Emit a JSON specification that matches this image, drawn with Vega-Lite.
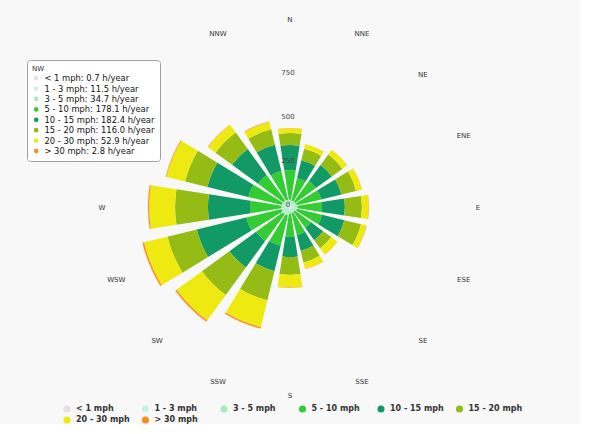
{
  "$schema": "https://vega.github.io/schema/vega-lite/v6.json",
  "width": 580,
  "height": 414,
  "padding": 0,
  "background": "#f8f8f8",
  "config": {"view": {"stroke": null}, "font": "DejaVu Sans", "legend": {"padding": 0}},
  "datasets": {
    "wind": [
      {"dir":"N","speed":"< 1 mph","k":1,"hours":0.6},{"dir":"N","speed":"1 - 3 mph","k":2,"hours":10.2},{"dir":"N","speed":"3 - 5 mph","k":3,"hours":31.5},{"dir":"N","speed":"5 - 10 mph","k":4,"hours":167.7},{"dir":"N","speed":"10 - 15 mph","k":5,"hours":142},{"dir":"N","speed":"15 - 20 mph","k":6,"hours":68},{"dir":"N","speed":"20 - 30 mph","k":7,"hours":27.5},{"dir":"N","speed":"> 30 mph","k":8,"hours":1.5},
      {"dir":"NNE","speed":"< 1 mph","k":1,"hours":0.5},{"dir":"NNE","speed":"1 - 3 mph","k":2,"hours":8.8},{"dir":"NNE","speed":"3 - 5 mph","k":3,"hours":27.1},{"dir":"NNE","speed":"5 - 10 mph","k":4,"hours":133.6},{"dir":"NNE","speed":"10 - 15 mph","k":5,"hours":103},{"dir":"NNE","speed":"15 - 20 mph","k":6,"hours":68},{"dir":"NNE","speed":"20 - 30 mph","k":7,"hours":27},{"dir":"NNE","speed":"> 30 mph","k":8,"hours":1.0},
      {"dir":"NE","speed":"< 1 mph","k":1,"hours":0.4},{"dir":"NE","speed":"1 - 3 mph","k":2,"hours":9.3},{"dir":"NE","speed":"3 - 5 mph","k":3,"hours":28.4},{"dir":"NE","speed":"5 - 10 mph","k":4,"hours":143.9},{"dir":"NE","speed":"10 - 15 mph","k":5,"hours":113},{"dir":"NE","speed":"15 - 20 mph","k":6,"hours":74},{"dir":"NE","speed":"20 - 30 mph","k":7,"hours":33},{"dir":"NE","speed":"> 30 mph","k":8,"hours":1.2},
      {"dir":"ENE","speed":"< 1 mph","k":1,"hours":0.5},{"dir":"ENE","speed":"1 - 3 mph","k":2,"hours":9.6},{"dir":"ENE","speed":"3 - 5 mph","k":3,"hours":29.8},{"dir":"ENE","speed":"5 - 10 mph","k":4,"hours":142.1},{"dir":"ENE","speed":"10 - 15 mph","k":5,"hours":119},{"dir":"ENE","speed":"15 - 20 mph","k":6,"hours":85},{"dir":"ENE","speed":"20 - 30 mph","k":7,"hours":33},{"dir":"ENE","speed":"> 30 mph","k":8,"hours":1.3},
      {"dir":"E","speed":"< 1 mph","k":1,"hours":0.6},{"dir":"E","speed":"1 - 3 mph","k":2,"hours":10.4},{"dir":"E","speed":"3 - 5 mph","k":3,"hours":32.1},{"dir":"E","speed":"5 - 10 mph","k":4,"hours":138.9},{"dir":"E","speed":"10 - 15 mph","k":5,"hours":130},{"dir":"E","speed":"15 - 20 mph","k":6,"hours":97},{"dir":"E","speed":"20 - 30 mph","k":7,"hours":38},{"dir":"E","speed":"> 30 mph","k":8,"hours":2.0},
      {"dir":"ESE","speed":"< 1 mph","k":1,"hours":0.5},{"dir":"ESE","speed":"1 - 3 mph","k":2,"hours":9.9},{"dir":"ESE","speed":"3 - 5 mph","k":3,"hours":30.6},{"dir":"ESE","speed":"5 - 10 mph","k":4,"hours":146},{"dir":"ESE","speed":"10 - 15 mph","k":5,"hours":131},{"dir":"ESE","speed":"15 - 20 mph","k":6,"hours":97},{"dir":"ESE","speed":"20 - 30 mph","k":7,"hours":32},{"dir":"ESE","speed":"> 30 mph","k":8,"hours":2.0},
      {"dir":"SE","speed":"< 1 mph","k":1,"hours":0.4},{"dir":"SE","speed":"1 - 3 mph","k":2,"hours":8.1},{"dir":"SE","speed":"3 - 5 mph","k":3,"hours":24.9},{"dir":"SE","speed":"5 - 10 mph","k":4,"hours":114.6},{"dir":"SE","speed":"10 - 15 mph","k":5,"hours":85},{"dir":"SE","speed":"15 - 20 mph","k":6,"hours":57},{"dir":"SE","speed":"20 - 30 mph","k":7,"hours":44},{"dir":"SE","speed":"> 30 mph","k":8,"hours":1.0},
      {"dir":"SSE","speed":"< 1 mph","k":1,"hours":0.5},{"dir":"SSE","speed":"1 - 3 mph","k":2,"hours":8.6},{"dir":"SSE","speed":"3 - 5 mph","k":3,"hours":26.4},{"dir":"SSE","speed":"5 - 10 mph","k":4,"hours":129.5},{"dir":"SSE","speed":"10 - 15 mph","k":5,"hours":91},{"dir":"SSE","speed":"15 - 20 mph","k":6,"hours":68},{"dir":"SSE","speed":"20 - 30 mph","k":7,"hours":39},{"dir":"SSE","speed":"> 30 mph","k":8,"hours":1.0},
      {"dir":"S","speed":"< 1 mph","k":1,"hours":0.6},{"dir":"S","speed":"1 - 3 mph","k":2,"hours":9.2},{"dir":"S","speed":"3 - 5 mph","k":3,"hours":28.3},{"dir":"S","speed":"5 - 10 mph","k":4,"hours":131.9},{"dir":"S","speed":"10 - 15 mph","k":5,"hours":114},{"dir":"S","speed":"15 - 20 mph","k":6,"hours":102},{"dir":"S","speed":"20 - 30 mph","k":7,"hours":72},{"dir":"S","speed":"> 30 mph","k":8,"hours":2.0},
      {"dir":"SSW","speed":"< 1 mph","k":1,"hours":0.7},{"dir":"SSW","speed":"1 - 3 mph","k":2,"hours":12.1},{"dir":"SSW","speed":"3 - 5 mph","k":3,"hours":36.5},{"dir":"SSW","speed":"5 - 10 mph","k":4,"hours":177.7},{"dir":"SSW","speed":"10 - 15 mph","k":5,"hours":148},{"dir":"SSW","speed":"15 - 20 mph","k":6,"hours":170},{"dir":"SSW","speed":"20 - 30 mph","k":7,"hours":157},{"dir":"SSW","speed":"> 30 mph","k":8,"hours":8},
      {"dir":"SW","speed":"< 1 mph","k":1,"hours":0.8},{"dir":"SW","speed":"1 - 3 mph","k":2,"hours":12.8},{"dir":"SW","speed":"3 - 5 mph","k":3,"hours":38.5},{"dir":"SW","speed":"5 - 10 mph","k":4,"hours":186.9},{"dir":"SW","speed":"10 - 15 mph","k":5,"hours":187},{"dir":"SW","speed":"15 - 20 mph","k":6,"hours":193},{"dir":"SW","speed":"20 - 30 mph","k":7,"hours":179},{"dir":"SW","speed":"> 30 mph","k":8,"hours":9},
      {"dir":"WSW","speed":"< 1 mph","k":1,"hours":0.8},{"dir":"WSW","speed":"1 - 3 mph","k":2,"hours":12.5},{"dir":"WSW","speed":"3 - 5 mph","k":3,"hours":37.4},{"dir":"WSW","speed":"5 - 10 mph","k":4,"hours":205.3},{"dir":"WSW","speed":"10 - 15 mph","k":5,"hours":289},{"dir":"WSW","speed":"15 - 20 mph","k":6,"hours":171},{"dir":"WSW","speed":"20 - 30 mph","k":7,"hours":138},{"dir":"WSW","speed":"> 30 mph","k":8,"hours":9},
      {"dir":"W","speed":"< 1 mph","k":1,"hours":0.9},{"dir":"W","speed":"1 - 3 mph","k":2,"hours":12.3},{"dir":"W","speed":"3 - 5 mph","k":3,"hours":37.1},{"dir":"W","speed":"5 - 10 mph","k":4,"hours":176.7},{"dir":"W","speed":"10 - 15 mph","k":5,"hours":239},{"dir":"W","speed":"15 - 20 mph","k":6,"hours":187},{"dir":"W","speed":"20 - 30 mph","k":7,"hours":147},{"dir":"W","speed":"> 30 mph","k":8,"hours":7},
      {"dir":"WNW","speed":"< 1 mph","k":1,"hours":0.8},{"dir":"WNW","speed":"1 - 3 mph","k":2,"hours":12},{"dir":"WNW","speed":"3 - 5 mph","k":3,"hours":36},{"dir":"WNW","speed":"5 - 10 mph","k":4,"hours":195.2},{"dir":"WNW","speed":"10 - 15 mph","k":5,"hours":239},{"dir":"WNW","speed":"15 - 20 mph","k":6,"hours":130},{"dir":"WNW","speed":"20 - 30 mph","k":7,"hours":110},{"dir":"WNW","speed":"> 30 mph","k":8,"hours":4},
      {"dir":"NW","speed":"< 1 mph","k":1,"hours":0.7},{"dir":"NW","speed":"1 - 3 mph","k":2,"hours":11.5},{"dir":"NW","speed":"3 - 5 mph","k":3,"hours":34.7},{"dir":"NW","speed":"5 - 10 mph","k":4,"hours":178.1},{"dir":"NW","speed":"10 - 15 mph","k":5,"hours":182.4},{"dir":"NW","speed":"15 - 20 mph","k":6,"hours":116.0},{"dir":"NW","speed":"20 - 30 mph","k":7,"hours":52.9},{"dir":"NW","speed":"> 30 mph","k":8,"hours":2.8},
      {"dir":"NNW","speed":"< 1 mph","k":1,"hours":0.6},{"dir":"NNW","speed":"1 - 3 mph","k":2,"hours":10.5},{"dir":"NNW","speed":"3 - 5 mph","k":3,"hours":32},{"dir":"NNW","speed":"5 - 10 mph","k":4,"hours":166.9},{"dir":"NNW","speed":"10 - 15 mph","k":5,"hours":154},{"dir":"NNW","speed":"15 - 20 mph","k":6,"hours":90},{"dir":"NNW","speed":"20 - 30 mph","k":7,"hours":43},{"dir":"NNW","speed":"> 30 mph","k":8,"hours":3}
    ],
    "dirs": [
      {"dir":"N"},{"dir":"NNE"},{"dir":"NE"},{"dir":"ENE"},{"dir":"E"},{"dir":"ESE"},{"dir":"SE"},{"dir":"SSE"},
      {"dir":"S"},{"dir":"SSW"},{"dir":"SW"},{"dir":"WSW"},{"dir":"W"},{"dir":"NNW"}
    ],
    "ticks": [{"v":0},{"v":250},{"v":500},{"v":750}],
    "tooltip": [
      {"item":"< 1 mph: 0.7 h/year"},{"item":"1 - 3 mph: 11.5 h/year"},{"item":"3 - 5 mph: 34.7 h/year"},{"item":"5 - 10 mph: 178.1 h/year"},
      {"item":"10 - 15 mph: 182.4 h/year"},{"item":"15 - 20 mph: 116.0 h/year"},{"item":"20 - 30 mph: 52.9 h/year"},{"item":"> 30 mph: 2.8 h/year"}
    ]
  },
  "layer": [
    {
      "data": {"name": "wind"},
      "mark": {"type": "arc", "strokeWidth": 0},
      "encoding": {
        "theta": {
          "field": "dir", "type": "nominal",
          "sort": ["N","NNE","NE","ENE","E","ESE","SE","SSE","S","SSW","SW","WSW","W","WNW","NW","NNW"],
          "scale": {"type": "band", "domain": ["N","NNE","NE","ENE","E","ESE","SE","SSE","S","SSW","SW","WSW","W","WNW","NW","NNW"], "paddingInner": 0.21, "paddingOuter": 0.105, "range": [-0.19635, 6.08684]}
        },
        "radius": {
          "field": "hours", "type": "quantitative", "stack": "zero",
          "scale": {"type": "linear", "domain": [0, 1000], "range": [0, 176], "zero": true, "nice": false}
        },
        "color": {
          "field": "speed", "type": "nominal",
          "scale": {
            "domain": ["< 1 mph","1 - 3 mph","3 - 5 mph","5 - 10 mph","10 - 15 mph","15 - 20 mph","20 - 30 mph","> 30 mph"],
            "range": ["#e2e2e2","#c4f2e4","#a6ecc2","#33cc33","#119966","#95bb15","#eeea11","#ff8c1a"]
          },
          "legend": {
            "orient": "none", "legendX": 63, "legendY": 405, "direction": "horizontal", "columns": 6,
            "title": null, "symbolType": "circle", "symbolSize": 50, "symbolStrokeWidth": 0,
            "labelFontSize": 8, "labelFont": "DejaVu Sans", "labelFontWeight": "bold", "labelColor": "#333333",
            "columnPadding": 11.5, "rowPadding": 3, "gridAlign": "all", "labelOffset": 5
          }
        },
        "order": {"field": "k", "type": "quantitative"}
      }
    },
    {
      "data": {"name": "tooltip"},
      "mark": {"type": "point", "filled": true, "opacity": 0},
      "encoding": {
        "fill": {
          "field": "item", "type": "nominal",
          "scale": {
            "domain": ["< 1 mph: 0.7 h/year","1 - 3 mph: 11.5 h/year","3 - 5 mph: 34.7 h/year","5 - 10 mph: 178.1 h/year","10 - 15 mph: 182.4 h/year","15 - 20 mph: 116.0 h/year","20 - 30 mph: 52.9 h/year","> 30 mph: 2.8 h/year"],
            "range": ["#e2e2e2","#c4f2e4","#a6ecc2","#33cc33","#119966","#95bb15","#eeea11","#ff8c1a"]
          },
          "legend": {
            "orient": "none", "legendX": 27, "legendY": 60, "title": "NW",
            "titleFontSize": 7, "titleFontWeight": "normal", "titleColor": "#333333", "titleFont": "DejaVu Sans", "titlePadding": 2,
            "labelFontSize": 8.4, "labelFont": "DejaVu Sans", "labelColor": "#111111", "labelLimit": 200,
            "symbolType": "circle", "symbolSize": 22, "symbolOpacity": 1, "symbolStrokeWidth": 0, "labelOffset": 4,
            "rowPadding": 1.4, "padding": 5, "fillColor": "#ffffff", "strokeColor": "#a0a0a0", "cornerRadius": 3
          }
        }
      }
    },
    {
      "data": {"name": "dirs"},
      "mark": {"type": "text", "radius": 188, "fontSize": 7, "color": "#333333", "font": "DejaVu Sans", "align": "center", "baseline": "middle", "dy": 1},
      "encoding": {
        "theta": {"field": "dir", "type": "nominal", "bandPosition": 0.5, "sort": ["N","NNE","NE","ENE","E","ESE","SE","SSE","S","SSW","SW","WSW","W","WNW","NW","NNW"]},
        "text": {"field": "dir", "type": "nominal"}
      }
    },
    {
      "data": {"name": "ticks"},
      "mark": {"type": "text", "theta": 0, "fontSize": 7, "color": "#444444", "font": "DejaVu Sans", "align": "center", "baseline": "middle", "dx": -2, "dy": -2},
      "encoding": {
        "radius": {"field": "v", "type": "quantitative"},
        "text": {"field": "v", "type": "quantitative"}
      }
    }
  ]
}
